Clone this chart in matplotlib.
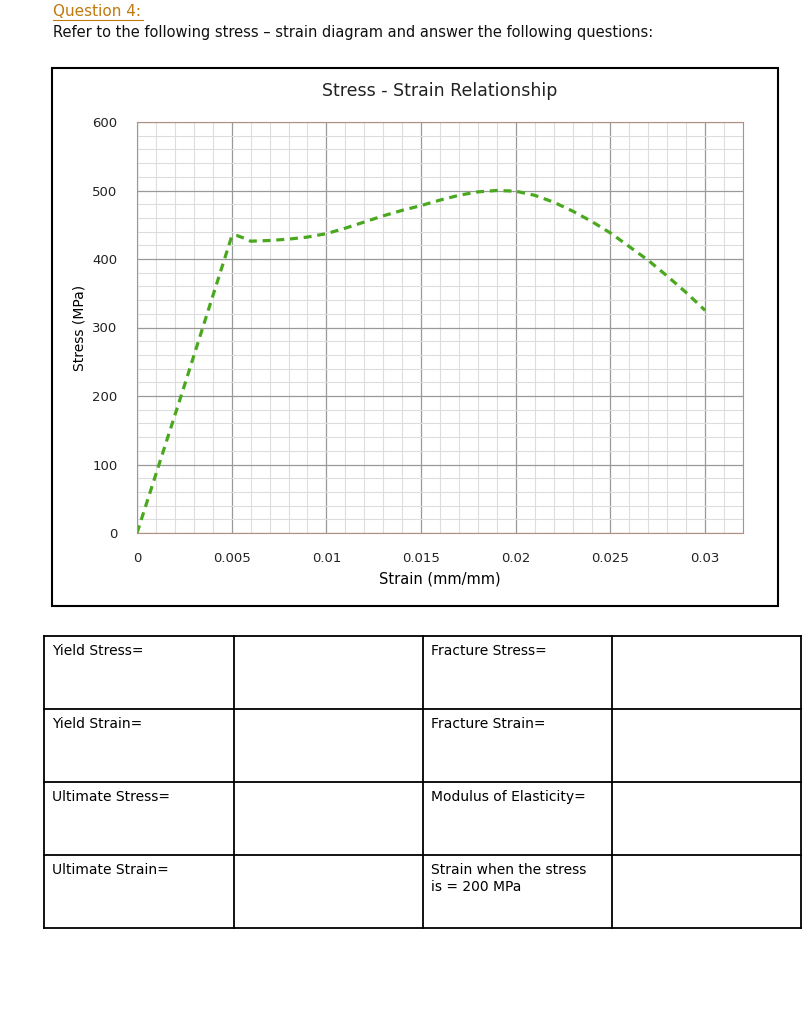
import matplotlib
matplotlib.use("Agg")
import matplotlib.pyplot as plt
from matplotlib.patches import Rectangle
from matplotlib.ticker import MultipleLocator

strain = [0.0, 0.0025, 0.005, 0.0053, 0.0057, 0.006, 0.007, 0.008, 0.009, 0.010, 0.011, 0.012, 0.013, 0.014, 0.015, 0.016, 0.017, 0.018, 0.019, 0.020, 0.021, 0.022, 0.023, 0.024, 0.025, 0.026, 0.027, 0.028, 0.029, 0.030]
stress = [0, 215, 433, 434, 430, 426, 427, 429, 432, 437, 445, 454, 463, 471, 478, 486, 493, 498, 500, 499, 493, 483, 470, 455, 438, 418, 398, 375, 351, 325]
xticks = [0, 0.005, 0.01, 0.015, 0.02, 0.025, 0.03]
xticklabels = ["0", "0.005", "0.01", "0.015", "0.02", "0.025", "0.03"]
yticks = [0, 100, 200, 300, 400, 500, 600]
rows_left = ["Yield Stress=", "Yield Strain=", "Ultimate Stress=", "Ultimate Strain="]
rows_right = ["Fracture Stress=", "Fracture Strain=", "Modulus of Elasticity=", "Strain when the stress\nis = 200 MPa"]

W, H = 807, 1024
fig = plt.figure(figsize=(W/100, H/100), dpi=100)
plt.rcParams['font.family'] = ['DejaVu Sans']

def fx(x): return x / W
def fy(y): return 1 - y / H

fig.text(fx(53), fy(12), "Question 4:", color="#c07a10", fontsize=11, va="center", ha="left")
fig.add_artist(plt.Line2D([fx(53), fx(143)], [fy(20), fy(20)], color="#c07a10", lw=0.8))
fig.text(fx(53), fy(33), "Refer to the following stress – strain diagram and answer the following questions:",
         fontsize=10.5, va="center", ha="left", color="#111111")

fig.add_artist(Rectangle((fx(52), fy(606)), (778-52)/W, (606-68)/H, transform=fig.transFigure,
                         fill=False, edgecolor="black", lw=1.5))

ax = fig.add_axes([fx(137), fy(533), (743-137)/W, (533-122)/H])
ax.plot(strain, stress, color="#4aa81e", lw=2.3, ls=(0, (2.5, 1.8)))
ax.set_xlim(0, 0.032)
ax.set_ylim(0, 600)
ax.xaxis.set_major_locator(MultipleLocator(0.005))
ax.xaxis.set_minor_locator(MultipleLocator(0.001))
ax.yaxis.set_major_locator(MultipleLocator(100))
ax.yaxis.set_minor_locator(MultipleLocator(20))
ax.set_xticks(xticks)
ax.set_xticklabels(xticklabels)
ax.set_yticks(yticks)
ax.grid(which="major", color="#999999", lw=0.9)
ax.grid(which="minor", color="#dddddd", lw=0.8)
ax.set_axisbelow(True)
for s in ax.spines.values():
    s.set_color("#b09080")
ax.tick_params(which="both", length=0, labelsize=9.5, colors="#222222")
ax.tick_params(axis="x", pad=14)
ax.tick_params(axis="y", pad=14)
ax.set_xlabel("Strain (mm/mm)", fontsize=10.5, labelpad=4)
ax.set_ylabel("Stress (MPa)", fontsize=10, labelpad=4)
ax.set_title("Stress - Strain Relationship", fontsize=12.5, pad=19, color="#222222")

cols = [44, 234, 423, 612, 801]
rows = [636, 709, 782, 855, 928]
for c in cols:
    fig.add_artist(plt.Line2D([fx(c), fx(c)], [fy(rows[0]), fy(rows[-1])], color="black", lw=1.3))
for r in rows:
    fig.add_artist(plt.Line2D([fx(cols[0]), fx(cols[-1])], [fy(r), fy(r)], color="black", lw=1.3))
for i in range(4):
    fig.text(fx(cols[0] + 8), fy(rows[i] + 8), rows_left[i], fontsize=10, va="top", ha="left")
    fig.text(fx(cols[2] + 8), fy(rows[i] + 8), rows_right[i], fontsize=10, va="top", ha="left", linespacing=1.3)

fig.savefig("out.png", dpi=100)
